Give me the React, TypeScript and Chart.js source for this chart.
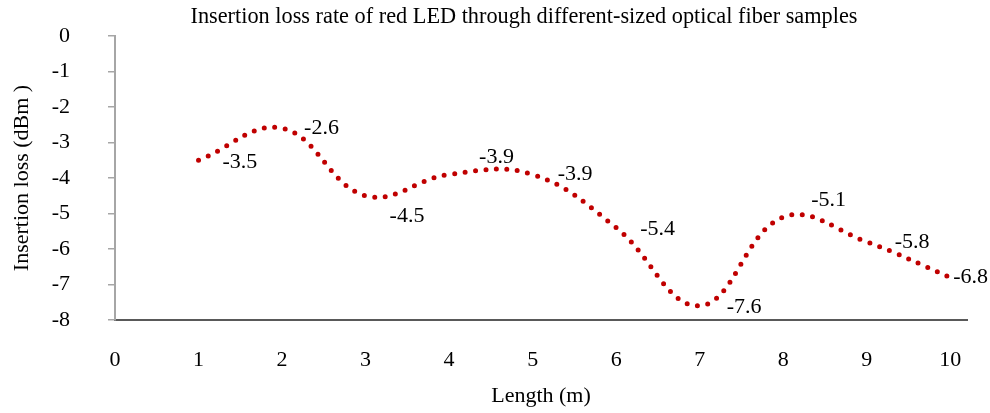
import React, { useEffect, useRef } from "react";
import { Chart, registerables } from "chart.js";

Chart.register(...registerables);

const lengths = [1, 2, 3, 4, 5, 6, 7, 8, 9, 10];
const insertionLoss = [-3.5, -2.6, -4.5, -3.9, -3.9, -5.4, -7.6, -5.1, -5.8, -6.8];
const xTickValues = [0, 1, 2, 3, 4, 5, 6, 7, 8, 9, 10];
const yTickValues = [0, -1, -2, -3, -4, -5, -6, -7, -8];
const chartTitle = "Insertion loss rate of red LED through different-sized optical fiber samples";
const xAxisTitle = "Length (m)";
const yAxisTitle = "Insertion loss (dBm )";

// label placement (style only): [dx, dy] relative to each point
const labelPlacement = [
  [24, 2], [22, 0], [24, 20], [30, -17], [25, 0],
  [24, 2], [27, 1], [28, -17], [28, 0], [3, 0],
];

const SERIF = "'Liberation Serif', 'Times New Roman', serif";

const labelPlugin = {
  id: "pointLabels",
  afterDatasetsDraw(chart: any) {
    const meta = chart.getDatasetMeta(0);
    const ctx = chart.ctx;
    ctx.save();
    ctx.font = `22px ${SERIF}`;
    ctx.fillStyle = "#000";
    ctx.textAlign = "left";
    ctx.textBaseline = "middle";
    meta.data.forEach((el: any, i: number) => {
      const [dx, dy] = labelPlacement[i] || [24, 0];
      ctx.fillText(String(insertionLoss[i]), el.x + dx, el.y + dy);
    });
    ctx.restore();
  },
};

const titlePlugin = {
  id: "customTitle",
  afterDraw(chart: any) {
    const ctx = chart.ctx;
    ctx.save();
    ctx.font = `22.3px ${SERIF}`;
    ctx.fillStyle = "#000";
    ctx.textAlign = "center";
    ctx.textBaseline = "middle";
    ctx.fillText(chartTitle, 524, 17);
    ctx.restore();
  },
};

export default function App() {
  const ref = useRef<HTMLCanvasElement | null>(null);

  useEffect(() => {
    if (!ref.current) return;
    const chart = new Chart(ref.current, {
      type: "line",
      data: {
        datasets: [
          {
            data: lengths.map((x, i) => ({ x, y: insertionLoss[i] })),
            borderColor: "#C00000",
            borderWidth: 5,
            borderDash: [0, 10.5],
            borderCapStyle: "round",
            pointRadius: 0,
            tension: 0.4,
            fill: false,
          },
        ],
      },
      options: {
        responsive: false,
        animation: false,
        layout: { padding: { left: 0, right: 23, top: 36, bottom: 0 } },
        plugins: {
          legend: { display: false },
          tooltip: { enabled: false },
          title: { display: false },
        },
        scales: {
          x: {
            type: "linear",
            min: 0,
            max: 10.2,
            afterBuildTicks: (s: any) => {
              s.ticks = xTickValues.map((v) => ({ value: v }));
            },
            afterFit: (s: any) => {
              s.height = 93;
              s.paddingLeft = 0;
              s.paddingRight = 0;
            },
            grid: { display: false },
            border: { display: true, color: "#595959", width: 2 },
            ticks: {
              padding: 19,
              color: "#000",
              maxRotation: 0,
              font: { family: SERIF, size: 22 },
            },
            title: {
              display: true,
              text: xAxisTitle,
              color: "#000",
              font: { family: SERIF, size: 22 },
              padding: { top: 0, bottom: 4 },
            },
          },
          y: {
            type: "linear",
            min: -8,
            max: 0,
            afterBuildTicks: (s: any) => {
              s.ticks = yTickValues.map((v) => ({ value: v }));
            },
            afterFit: (s: any) => {
              s.width = 115;
              s.paddingTop = 0;
              s.paddingBottom = 0;
            },
            grid: {
              display: true,
              drawOnChartArea: false,
              drawTicks: true,
              tickLength: 7,
              color: "#A6A6A6",
              lineWidth: 1.5,
            },
            border: { display: true, color: "#A6A6A6", width: 2 },
            ticks: {
              padding: 38,
              color: "#000",
              font: { family: SERIF, size: 22 },
              callback: (v: any) => String(v),
            },
            title: {
              display: true,
              text: yAxisTitle,
              color: "#000",
              font: { family: SERIF, size: 22 },
              padding: { top: 9, bottom: 0 },
            },
          },
        },
      },
      plugins: [labelPlugin, titlePlugin],
    } as any);
    return () => chart.destroy();
  }, []);

  return (
    <div style={{ position: "absolute", left: 0, top: 0, width: 990, height: 413, background: "#fff" }}>
      <canvas ref={ref} width={990} height={413} style={{ display: "block" }} />
    </div>
  );
}
